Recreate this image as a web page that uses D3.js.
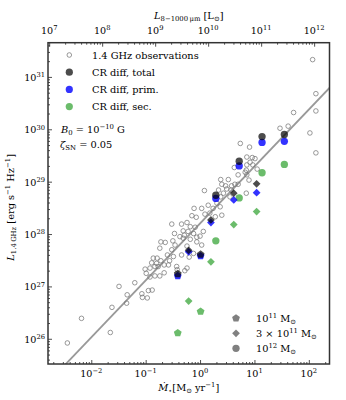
<!DOCTYPE html>
<html>
<head>
<meta charset="utf-8">
<script src="https://cdn.jsdelivr.net/npm/d3@7"></script>
<style>
  body { margin: 0; background: #fff; }
  svg { display: block; font-family: "DejaVu Serif", "Liberation Serif", serif; }
</style>
</head>
<body>
<svg id="chart" width="346" height="400"></svg>
<script>
const obsLogSfr = [2.07, 2.13, 1.72, 2.13, 2.02, 2.13, 1.47, 1.62, 0.74, 0.91, 0.86, 0.96, 1.01, 0.92, 0.86, 0.97,
  0.85, 1.05, 0.63, 0.83, 0.70, 0.86, 0.90, 0.38, 0.52, 0.40, 0.47, 0.58, 0.64, 0.70, 0.49, 0.57, 0.08, 0.34,
  0.43, 0.38, 0.55, 0.85, -0.11, 0.03, 0.15, 0.24, 0.31, 0.37, 0.40, -0.15, -0.07, 0.09, 0.18, 0.28,
  -0.34, -0.24, -0.18, -0.09, -0.31, -0.22, -0.12, 0.06, 0.00, -0.06, -0.31, -0.18, -0.24, -0.06, 0.03,
  -0.34, -0.12, -0.20, -0.24, -0.28, -0.37, -0.29, -0.52, -0.47, -0.72, -0.64, -0.50, -0.46, -0.74, -0.52,
  -0.60, -0.49, -0.56, -0.79, -0.72, -0.86, -0.89, -0.80, -0.77, -0.66, -0.58, -0.83, -0.92, -1.01, -0.92,
  -0.83, -0.74, -0.66, -0.43, -0.42, -0.99, -1.20, -1.49, -0.95, -0.88, -1.07, -0.97, -1.06, -1.34, -1.35,
  -1.62, -2.18, -1.65, -2.44];
const obsLogL14 = [31.33, 30.68, 30.32, 30.35, 29.93, 29.55, 30.02, 30.06, 29.73, 29.66, 29.47, 29.46, 29.44,
  29.37, 29.32, 29.32, 29.22, 29.24, 29.27, 29.18, 29.13, 29.13, 29.03, 29.04, 29.04, 28.95, 28.92, 28.92,
  28.95, 28.95, 28.86, 28.84, 28.83, 28.84, 28.78, 28.71, 28.71, 28.78, 28.49, 28.49, 28.55, 28.49, 28.59,
  28.52, 28.36, 28.35, 28.32, 28.38, 28.40, 28.33,
  28.19, 28.22, 28.14, 28.13, 28.06, 28.05, 28.01, 28.05, 27.96, 27.94, 27.92, 27.90, 27.77, 27.85, 27.79,
  27.60, 27.63, 27.56, 27.35, 27.30, 27.95, 27.98, 28.19, 28.01, 27.85, 27.84, 27.87, 27.79, 27.73, 27.70,
  27.60, 27.57, 27.49, 27.54, 27.49, 27.54, 27.45, 27.44, 27.38, 27.41, 27.41, 27.38, 27.35, 27.33, 27.18,
  27.20, 27.20, 27.26, 27.38, 27.32, 27.25, 27.07, 27.00, 26.92, 26.93, 26.86, 26.78, 26.79, 26.84, 26.68,
  26.60, 26.39, 26.12, 25.92];

// best-fit relation, two end points (log SFR, log L)
const fitLogSfr = [-3.0, 2.5];
const fitLogL14 = [24.94, 30.92];

// simulations: halo mass, marker, SFR and the three radio components
const simMasses = ["1e11", "3e11", "1e12"];
const simLogSfr = {
  "1e11": [-0.41, 0.01],
  "3e11": [-0.21, 0.20, 0.62, 1.04],
  "1e12": [0.29, 0.72, 1.14, 1.55]
};
const simTotal = {
  "1e11": [27.24, 27.61],
  "3e11": [27.69, 28.27, 28.78, 28.96],
  "1e12": [28.74, 29.39, 29.86, 29.90]
};
const simPrim = {
  "1e11": [27.20, 27.58],
  "3e11": [27.66, 28.22, 28.65, 28.79],
  "1e12": [28.68, 29.30, 29.75, 29.77]
};
const simSec = {
  "1e11": [26.11, 26.52],
  "3e11": [26.72, 27.47, 28.18, 28.43],
  "1e12": [27.87, 28.69, 29.17, 29.33]
};

const xTickExps = [-2, -1, 0, 1, 2];
const yTickExps = [26, 27, 28, 29, 30, 31];
const topTickExps = [7, 8, 9, 10, 11, 12];

const svg = d3.select("#chart");
const pL = 48, pR = 329.5, pT = 42.7, pB = 364;
const FS = 9.6;   // tick labels
const LFS = 9.8;  // legend / titles

const x = d3.scaleLog().domain([1.6e-3, 240]).range([pL, pR]);
const y = d3.scaleLog().domain([3.3e25, 4.5e31]).range([pB, pT]);
const xTop = d3.scaleLog().domain([9.5e6, 1.95e12]).range([pL, pR]);

// text with italic / sub / sup pieces
function rich(t, parts, fs) {
  let shift = 0;
  parts.forEach(([s, k]) => {
    const sub = k && k.includes("sub"), sup = k && k.includes("sup");
    const target = sub ? 0.25 * fs : sup ? -0.38 * fs : 0;
    const ts = t.append("tspan").attr("dy", target - shift).text(s);
    shift = target;
    if (sub || sup) ts.attr("font-size", fs * 0.7);
    if (k && k.includes("i")) ts.attr("font-style", "italic");
  });
}
function powLabel(t, e, fs) {
  rich(t, [["10"], [e < 0 ? "\u2212" + (-e) : String(e), "sup"]], fs);
}
const isMajor = v => Math.abs(Math.log10(v) - Math.round(Math.log10(v))) < 1e-6;

// ticks (inward)
function ticks(scale, axisFn, pos) {
  const all = scale.ticks(10);
  const g = svg.append("g").attr("transform", pos);
  g.append("g").call(axisFn(scale).tickValues(all.filter(isMajor)).tickSize(-4).tickFormat(""));
  g.append("g").call(axisFn(scale).tickValues(all.filter(v => !isMajor(v))).tickSize(-2).tickFormat(""));
  g.selectAll(".domain").remove();
  g.selectAll("line").attr("stroke", "#222").attr("stroke-width", 0.8);
}
ticks(x, d3.axisBottom, `translate(0,${pB})`);
ticks(xTop, d3.axisTop, `translate(0,${pT})`);
ticks(y, d3.axisLeft, `translate(${pL},0)`);

// tick labels
xTickExps.forEach(e => {
  powLabel(svg.append("text").attr("x", x(Math.pow(10, e))).attr("y", 377)
    .attr("text-anchor", "middle").attr("font-size", FS), e, FS);
});
topTickExps.forEach(e => {
  powLabel(svg.append("text").attr("x", xTop(Math.pow(10, e))).attr("y", 34)
    .attr("text-anchor", "middle").attr("font-size", FS), e, FS);
});
yTickExps.forEach(e => {
  powLabel(svg.append("text").attr("x", 45).attr("y", y(Math.pow(10, e)) + 4)
    .attr("text-anchor", "end").attr("font-size", FS), e, FS);
});

// axis titles
rich(svg.append("text").attr("x", (pL + pR) / 2).attr("y", 391).attr("text-anchor", "middle")
  .attr("font-size", LFS), [["\u1E40", "i"], ["\u22C6", "sub"], ["[M"], ["\u2299", "sub"], [" yr"], ["\u22121", "sup"], ["]"]], LFS);
rich(svg.append("text").attr("x", (pL + pR) / 2).attr("y", 19).attr("text-anchor", "middle")
  .attr("font-size", LFS), [["L", "i"], ["8\u22121000\u2009\u03BCm", "sub"], [" [L"], ["\u2299", "sub"], ["]"]], LFS);
rich(svg.append("text").attr("transform", `translate(14,${(pT + pB) / 2 + 4}) rotate(-90)`)
  .attr("text-anchor", "middle").attr("font-size", LFS),
  [["L", "i"], ["1.4\u2009GHz", "sub"], [" [erg s"], ["\u22121", "sup"], [" Hz"], ["\u22121", "sup"], ["]"]], LFS);

// plot area
svg.append("clipPath").attr("id", "clip").append("rect")
  .attr("x", pL).attr("y", pT).attr("width", pR - pL).attr("height", pB - pT);
const plot = svg.append("g").attr("clip-path", "url(#clip)");

plot.append("path")
  .datum(fitLogSfr.map((s, i) => [Math.pow(10, s), Math.pow(10, fitLogL14[i])]))
  .attr("d", d3.line().x(d => x(d[0])).y(d => y(d[1])))
  .attr("stroke", "#999").attr("stroke-width", 1.8).attr("fill", "none");

plot.selectAll("circle.obs").data(obsLogSfr.map((s, i) => [s, obsLogL14[i]])).join("circle")
  .attr("class", "obs")
  .attr("cx", d => x(Math.pow(10, d[0]))).attr("cy", d => y(Math.pow(10, d[1])))
  .attr("r", 2.3).attr("fill", "none").attr("stroke", "#777").attr("stroke-width", 0.75);

// marker shapes
const symbolPentagon = {
  draw(ctx, size) {
    const r = Math.sqrt(size / (2.5 * Math.sin(2 * Math.PI / 5)));
    for (let i = 0; i < 5; i++) {
      const a = -Math.PI / 2 + i * 2 * Math.PI / 5;
      if (i === 0) ctx.moveTo(r * Math.cos(a), r * Math.sin(a));
      else ctx.lineTo(r * Math.cos(a), r * Math.sin(a));
    }
    ctx.closePath();
  }
};
const shapes = {
  "1e11": { type: symbolPentagon, size: 40, rot: 0 },
  "3e11": { type: d3.symbolSquare, size: 30, rot: 45 },
  "1e12": { type: d3.symbolCircle, size: 42, rot: 0 }
};
const comps = [
  { vals: simSec, fill: "#2ca02c", op: 0.7 },
  { vals: simPrim, fill: "#0000ff", op: 0.8 },
  { vals: simTotal, fill: "#000000", op: 0.7 }
];
comps.forEach(c => {
  simMasses.forEach(m => {
    const sh = shapes[m];
    plot.selectAll(null).data(simLogSfr[m].map((s, i) => [s, c.vals[m][i]])).join("path")
      .attr("d", d3.symbol().type(sh.type).size(sh.size))
      .attr("transform", d => `translate(${x(Math.pow(10, d[0]))},${y(Math.pow(10, d[1]))}) rotate(${sh.rot})`)
      .attr("fill", c.fill).attr("fill-opacity", c.op);
  });
});

// frame
svg.append("rect").attr("x", pL).attr("y", pT).attr("width", pR - pL).attr("height", pB - pT)
  .attr("fill", "none").attr("stroke", "#333").attr("stroke-width", 1.5);

// legend (top-left)
const legItems = [
  { label: "1.4 GHz observations", kind: "obs" },
  { label: "CR diff, total", fill: "#000000", op: 0.7 },
  { label: "CR diff, prim.", fill: "#0000ff", op: 0.8 },
  { label: "CR diff, sec.", fill: "#2ca02c", op: 0.7 }
];
legItems.forEach((d, i) => {
  const yy = 55 + i * 17.2;
  if (d.kind === "obs") {
    svg.append("circle").attr("cx", 69.3).attr("cy", yy).attr("r", 2.3)
      .attr("fill", "none").attr("stroke", "#777").attr("stroke-width", 0.75);
  } else {
    svg.append("circle").attr("cx", 69.3).attr("cy", yy).attr("r", 3.6)
      .attr("fill", d.fill).attr("fill-opacity", d.op);
  }
  svg.append("text").attr("x", 92).attr("y", yy + 3.6).attr("font-size", LFS).text(d.label);
});
rich(svg.append("text").attr("x", 61).attr("y", 133).attr("font-size", LFS),
  [["B", "i"], ["0", "sub"], [" = 10"], ["\u221210", "sup"], [" G"]], LFS);
rich(svg.append("text").attr("x", 60).attr("y", 148).attr("font-size", LFS),
  [["\u03B6", "i"], ["SN", "sub"], [" = 0.05"]], LFS);

// legend (bottom-right), halo masses
const massLabels = {
  "1e11": [["10"], ["11", "sup"], [" M"], ["\u2299", "sub"]],
  "3e11": [["3 \u00D7 10"], ["11", "sup"], [" M"], ["\u2299", "sub"]],
  "1e12": [["10"], ["12", "sup"], [" M"], ["\u2299", "sub"]]
};
simMasses.forEach((m, i) => {
  const yy = 318.3 + i * 15;
  const sh = shapes[m];
  svg.append("path").attr("d", d3.symbol().type(sh.type).size(sh.size))
    .attr("transform", `translate(236,${yy}) rotate(${sh.rot})`).attr("fill", "#808080");
  rich(svg.append("text").attr("x", 256).attr("y", yy + 3.6).attr("font-size", LFS), massLabels[m], LFS);
});
</script>
</body>
</html>
